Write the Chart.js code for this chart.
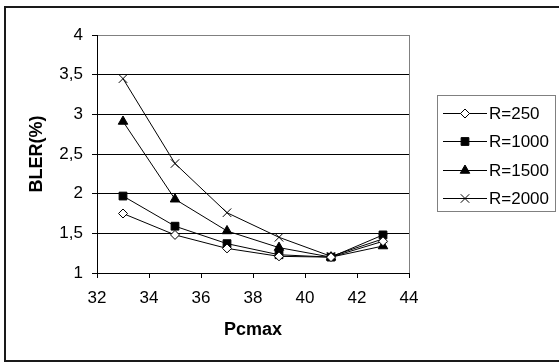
<!DOCTYPE html>
<html>
<head>
<meta charset="utf-8">
<script src="https://cdn.jsdelivr.net/npm/chart.js@4"></script>
<style>
  body { margin: 0; background: #fff; }
  canvas { display: block; }
</style>
</head>
<body>
<canvas id="blerChart" width="559" height="363"></canvas>
<script>
// Data
const pcmax = [33, 35, 37, 39, 41, 43];
const r250 = [1.75, 1.48, 1.31, 1.21, 1.20, 1.40];
const r1000 = [1.97, 1.59, 1.37, 1.23, 1.20, 1.48];
const r1500 = [2.91, 1.93, 1.53, 1.32, 1.20, 1.34];
const r2000 = [3.45, 2.38, 1.76, 1.45, 1.21, 1.43];
const seriesNames = ["R=250", "R=1000", "R=1500", "R=2000"];
const yTicks = [1, 1.5, 2, 2.5, 3, 3.5, 4];
const xTicks = [32, 34, 36, 38, 40, 42, 44];

const FONT = "'Liberation Sans', Arial, sans-serif";

function toPoints(values) {
    return pcmax.map((x, i) => ({ x: x, y: values[i] }));
}

function makeSet(label, values, style, radius, fill) {
    return {
        label: label,
        data: toPoints(values),
        showLine: true,
        borderColor: "#000",
        borderWidth: 1,
        pointStyle: style,
        pointRadius: radius,
        pointBackgroundColor: fill,
        pointBorderColor: "#000",
        pointBorderWidth: 1
    };
}

// frame, plot border and legend box
const extras = {
    id: "extras",
    afterDraw(chart) {
        const ctx = chart.ctx;
        const area = chart.chartArea;
        ctx.save();

        // right border of plot
        ctx.strokeStyle = "#808080";
        ctx.lineWidth = 1;
        ctx.beginPath();
        ctx.moveTo(Math.round(area.right) + 0.5, area.top);
        ctx.lineTo(Math.round(area.right) + 0.5, area.bottom);
        ctx.stroke();

        // outer frame
        ctx.strokeStyle = "#1a1a1a";
        ctx.lineWidth = 2;
        ctx.strokeRect(5, 7, 560, 354);

        // legend
        ctx.strokeStyle = "#808080";
        ctx.lineWidth = 1;
        ctx.strokeRect(437.5, 95.5, 118, 116);
        const rows = [113, 141, 170, 198];
        ctx.font = "17px " + FONT;
        ctx.textBaseline = "middle";
        ctx.textAlign = "left";
        chart.data.datasets.forEach((ds, i) => {
            const y = rows[i];
            ctx.strokeStyle = "#000";
            ctx.lineWidth = 1;
            ctx.beginPath();
            ctx.moveTo(443, y + 0.5);
            ctx.lineTo(487, y + 0.5);
            ctx.stroke();
            ctx.fillStyle = ds.pointBackgroundColor;
            ctx.strokeStyle = "#000";
            Chart.helpers.drawPoint(ctx, {
                pointStyle: ds.pointStyle,
                radius: ds.pointRadius,
                rotation: 0,
                borderWidth: 1
            }, 465, y + 0.5);
            ctx.fillStyle = "#000";
            ctx.fillText(ds.label, 489, y + 1);
        });
        ctx.restore();
    }
};

const ctx = document.getElementById("blerChart").getContext("2d");
new Chart(ctx, {
    type: "scatter",
    data: {
        datasets: [
            makeSet(seriesNames[0], r250, "rectRot", 4.5, "#fff"),
            makeSet(seriesNames[1], r1000, "rect", 5.5, "#000"),
            makeSet(seriesNames[2], r1500, "triangle", 5.5, "#000"),
            makeSet(seriesNames[3], r2000, "crossRot", 6, "#000")
        ]
    },
    options: {
        responsive: false,
        animation: false,
        devicePixelRatio: 1,
        layout: { padding: { left: 0, top: 35, right: 150, bottom: 0 } },
        plugins: {
            legend: { display: false },
            tooltip: { enabled: false }
        },
        scales: {
            x: {
                type: "linear",
                min: 32,
                max: 44,
                afterFit: (scale) => { scale.height = 90; },
                afterBuildTicks: (scale) => { scale.ticks = xTicks.map(v => ({ value: v })); },
                ticks: {
                    color: "#000",
                    padding: 10,
                    maxRotation: 0,
                    font: { family: FONT, size: 17 }
                },
                grid: {
                    drawOnChartArea: false,
                    drawTicks: true,
                    tickLength: 5,
                    tickColor: "#000"
                },
                border: { color: "#000", width: 1 },
                title: {
                    display: true,
                    text: "Pcmax",
                    color: "#000",
                    padding: { top: 0, bottom: 22 },
                    font: { family: FONT, size: 18, weight: "bold" }
                }
            },
            y: {
                min: 1,
                max: 4,
                afterFit: (scale) => { scale.width = 97; },
                afterBuildTicks: (scale) => { scale.ticks = yTicks.map(v => ({ value: v })); },
                ticks: {
                    color: "#000",
                    padding: 9,
                    font: { family: FONT, size: 17 },
                    callback: (v) => String(v).replace(".", ",")
                },
                grid: {
                    color: (c) => (c.tick && c.tick.value === 4 ? "#808080" : "#000"),
                    tickLength: 5,
                    tickColor: "#000"
                },
                border: { color: "#000", width: 1 },
                title: {
                    display: true,
                    text: "BLER(%)",
                    color: "#000",
                    padding: { top: 26, bottom: 0 },
                    font: { family: FONT, size: 18, weight: "bold" }
                }
            }
        }
    },
    plugins: [extras]
});
</script>
</body>
</html>
